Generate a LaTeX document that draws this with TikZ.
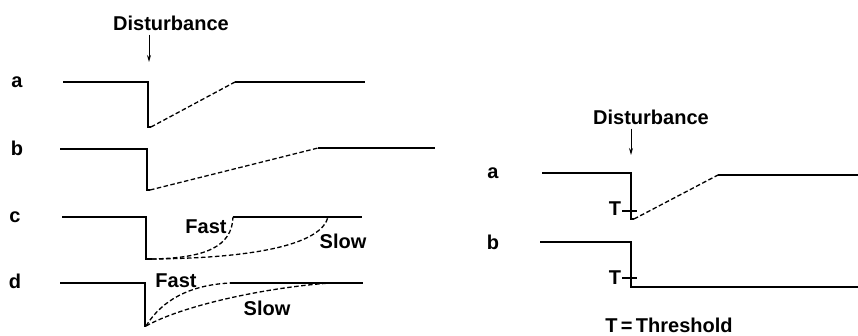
\documentclass[tikz,border=0pt]{standalone}
\usepackage{fontspec}
\setmainfont{Liberation Sans}
\usetikzlibrary{arrows.meta,positioning}

\begin{document}
\begin{tikzpicture}[x=1pt, y=-1pt,
  trace/.style={line width=1.3pt},
  recov/.style={line width=1.3pt, dash pattern=on 4.5pt off 2.5pt},
  lbl/.style={font=\fontsize{20}{24}\selectfont\bfseries, inner sep=1pt},
  arr/.style={-{Stealth[length=7pt,width=4pt]}, line width=1pt, shorten <=3pt}
]
\useasboundingbox (0,0) rectangle (858,336);

% left panel
\node[lbl] (distl) at (171,23) {Disturbance};
\coordinate (hitl) at (149,62);
\draw[arr] (distl.south -| hitl) -- (hitl);

\node[lbl] (la) at (17,82) {a};
\node[lbl] (lb) at (17,148) {b};
\node[lbl] (lc) at (15,217) {c};
\node[lbl] (ld) at (15,281) {d};

% a
\draw[trace] (63,82) -- (148,82) -- (148,127) -- (151,127);
\draw[recov] (151,127) -- (235,82);
\draw[trace] (235,82) -- (365,82);
% b
\draw[trace] (60,149) -- (147,149) -- (147,190) -- (150,190);
\draw[recov] (150,190) -- (318,148);
\draw[trace] (318,148) -- (435,148);
% c
\draw[trace] (62,217) -- (146,217) -- (146,259) -- (152,259);
\draw[recov] (152,259) .. controls (205,258) and (232,247) .. (233,217);
\draw[recov] (152,259) .. controls (265,258) and (322,242) .. (328,217);
\draw[trace] (233,217) -- (362,217);
\node[lbl] (cfast) at (206,227) {Fast};
\node[lbl] (cslow) at (343,241) {Slow};
% d
\draw[trace] (60,283) -- (145,283) -- (145,327);
\draw[recov] (146,326) .. controls (162,300) and (190,285) .. (230,283);
\draw[recov] (146,326) .. controls (182,306) and (262,288) .. (330,283);
\draw[trace] (230,283) -- (363,283);
\node[lbl] (dfast) at (176,281) {Fast};
\node[lbl] (dslow) at (267,308) {Slow};

% right panel
\node[lbl] (distr) at (651,117) {Disturbance};
\coordinate (hitr) at (631,155);
\draw[arr] (distr.south -| hitr) -- (hitr);

\node[lbl] (ra) at (493,173) {a};
\node[lbl] (rb) at (493,242) {b};

% a
\draw[trace] (542,173) -- (631,173) -- (631,219) -- (634,219);
\draw[recov] (634,219) -- (718,175);
\draw[trace] (718,175) -- (858,175);
\draw[trace] (622,211) -- (637,211);
\node[lbl] (ta) at (615,209) {T};
% b
\draw[trace] (540,242) -- (631,242) -- (631,287) -- (858,287);
\draw[trace] (622,278) -- (637,278);
\node[lbl] (tb) at (615,278) {T};

\node[lbl] (key) at (669,325) {T\,=\,Threshold};
\end{tikzpicture}
\end{document}
